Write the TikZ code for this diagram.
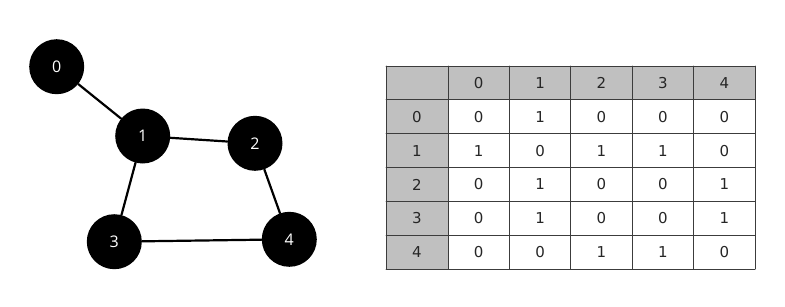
\documentclass[tikz,border=0pt]{standalone}
\usepackage{fontspec}
\setmainfont{DejaVu Sans}
\newfontfamily\vertexfont{Open Sans}
\usetikzlibrary{positioning}
\definecolor{headgray}{RGB}{192,192,192}
\definecolor{gridgray}{RGB}{60,60,60}
\begin{document}
\begin{tikzpicture}[x=1pt,y=-1pt,line cap=round,line join=round,
 vertex/.style={circle,fill=black,minimum size=55pt,inner sep=0pt,
  text=white,font=\vertexfont\fontsize{16}{16}\selectfont},
 edge/.style={line width=2.2pt},
 cell/.style={inner sep=0pt,text=black!85,font=\fontsize{15}{15}\selectfont}]
\useasboundingbox (0,0) rectangle (785,306);
% Graf: pięć wierzchołków i krawędzie.
\node[vertex] (v0) at (56.7,66.7) {0};
\node[vertex] (v1) at (142.7,136) {1};
\node[vertex] (v2) at (255,143.3) {2};
\node[vertex] (v3) at (114.3,241.7) {3};
\node[vertex] (v4) at (289.3,239.3) {4};
\draw[edge] (v0) -- (v1);
\draw[edge] (v1) -- (v2);
\draw[edge] (v1) -- (v3);
\draw[edge] (v2) -- (v4);
\draw[edge] (v3) -- (v4);
% Macierz sąsiedztwa: szare nagłówki, potem siatka.
\fill[headgray] (386,66) rectangle (755,99.8);
\fill[headgray] (386,66) rectangle (448,269);
\foreach \x in {386,448,509.4,570.8,632.2,693.6,755}
 \draw[gridgray,line width=0.8pt] (\x,66) -- (\x,269);
\foreach \y in {66,99.8,133.7,167.5,201.3,235.2,269}
 \draw[gridgray,line width=0.8pt] (386,\y) -- (755,\y);
\foreach \k in {0,...,4}{
 \node[cell] (h\k) at ({478.7+61.4*\k},82.9) {\k};
 \node[cell] (r\k) at (417,{116.8+33.83*\k}) {\k};
}
\foreach \row [count=\i from 0] in
 {{0,1,0,0,0},{1,0,1,1,0},{0,1,0,0,1},{0,1,0,0,1},{0,0,1,1,0}}
 \foreach \val [count=\j from 0] in \row
  \node[cell] (c\i\j) at ({478.7+61.4*\j},{116.8+33.83*\i}) {\val};
\end{tikzpicture}
\end{document}
